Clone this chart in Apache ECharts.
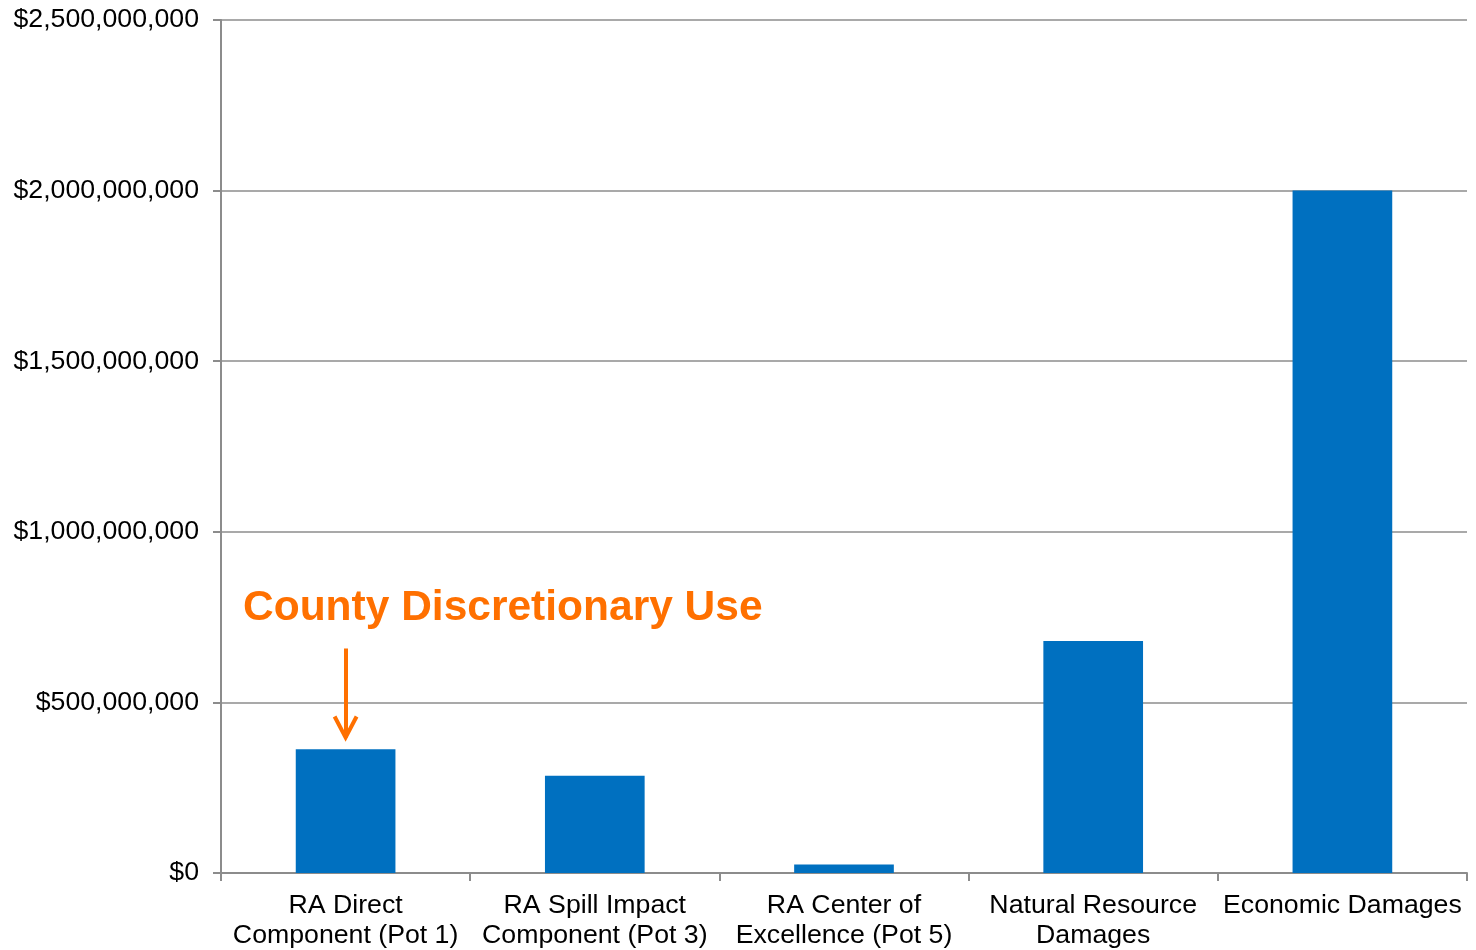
<!DOCTYPE html>
<html>
<head>
<meta charset="utf-8">
<script src="https://cdn.jsdelivr.net/npm/echarts@6/dist/echarts.min.js"></script>
<style>html,body{margin:0;padding:0;background:#fff;}#c{width:1476px;height:950px;}</style>
</head>
<body>
<div id="c"></div>
<script>
const categories = [
  'RA Direct\nComponent (Pot 1)',
  'RA Spill Impact\nComponent (Pot 3)',
  'RA Center of\nExcellence (Pot 5)',
  'Natural Resource\nDamages',
  'Economic Damages'
];
const values = [363000000, 285000000, 25000000, 680000000, 2000000000];
const annotationText = 'County Discretionary Use';

const chart = echarts.init(document.getElementById('c'));
const font = 'Liberation Sans, Arial, sans-serif';
const annotation = {
  type: 'text', left: 243, top: 587,
  style: { text: annotationText, fill: '#FF7000', font: 'bold 42.5px Liberation Sans, Arial, sans-serif' }
};
chart.setOption({
  animation: false,
  grid: { left: 221, right: 9, top: 20, bottom: 77, containLabel: false, outerBoundsMode: 'none' },
  xAxis: {
    type: 'category',
    data: categories,
    axisLine: { show: true, lineStyle: { color: '#8c8c8c', width: 2 } },
    axisTick: { show: true, alignWithLabel: false, length: 8, lineStyle: { color: '#8c8c8c', width: 2 } },
    axisLabel: { color: '#000', fontFamily: font, fontSize: 26.7, lineHeight: 30, margin: 18, interval: 0 }
  },
  yAxis: {
    type: 'value',
    min: 0, max: 2500000000, interval: 500000000,
    axisLine: { show: true, lineStyle: { color: '#8c8c8c', width: 2 } },
    axisTick: { show: true, length: 8, lineStyle: { color: '#8c8c8c', width: 2 } },
    splitLine: { show: true, lineStyle: { color: '#8c8c8c', width: 1.5 } },
    axisLabel: {
      color: '#000', fontFamily: font, fontSize: 26.7, margin: 22,
      formatter: v => '$' + v.toLocaleString('en-US')
    }
  },
  series: [{
    type: 'bar',
    data: values,
    barWidth: '40%',
    itemStyle: { color: '#0070C0' },
    markLine: {
      silent: true,
      symbol: ['none', 'none'],
      lineStyle: { color: '#FF7000', width: 4, type: 'solid' },
      label: { show: false },
      data: [[ { coord: [0, 658000000] }, { coord: [0, 397000000] } ]]
    }
  }],
  graphic: [annotation]
});

// arrowhead anchored to data coordinates
const tip = chart.convertToPixel({ seriesIndex: 0 }, [0, 397000000]);
chart.setOption({
  graphic: [
    annotation,
    {
      type: 'polyline',
      shape: { points: [[tip[0] - 11, tip[1] - 21], [tip[0], tip[1]], [tip[0] + 11, tip[1] - 21]] },
      style: { stroke: '#FF7000', lineWidth: 4, fill: null, lineJoin: 'miter' }
    }
  ]
});
</script>
</body>
</html>
